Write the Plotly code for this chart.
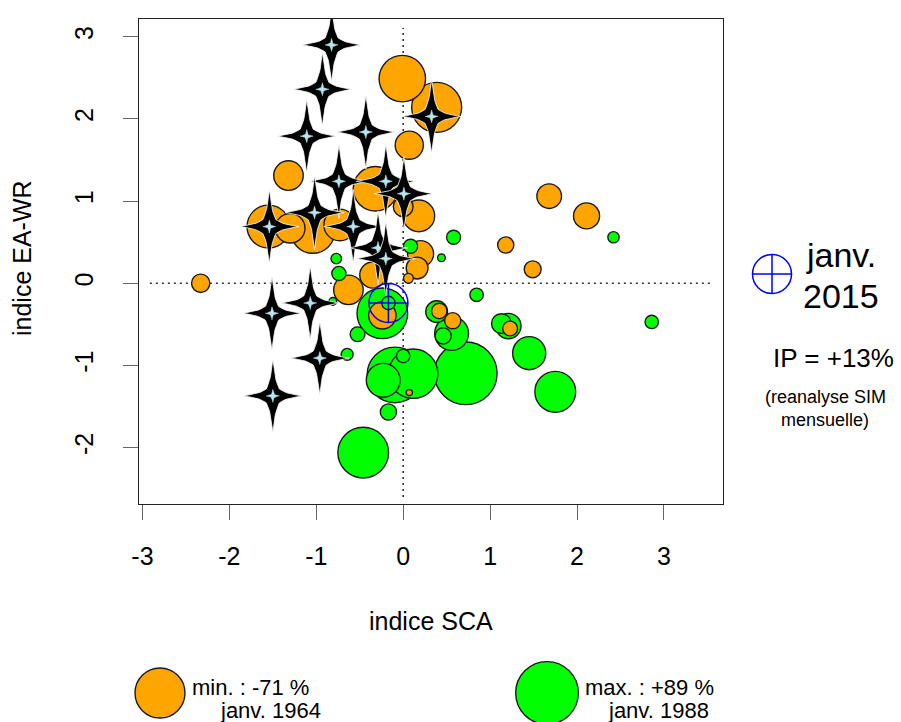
import numpy as np
import plotly.graph_objects as go

# ---- January values: SCA index, EA-WR index, precipitation anomaly IP (%) ----
sca = [-0.01, 0.385, 0.07, -1.32, -0.32, 0.00, 0.18, 1.68, 2.11, -1.55, -1.30, -1.04, -0.73,
       0.20, 0.16, 0.06, -0.35, 1.18, 1.49, -2.33, -0.63, -0.24, 0.415, 0.57, 1.23, 0.07,
       0.085, 0.44, 0.58, -0.77, -0.74, -0.81, -0.525, -0.645, -0.24, -0.17, -0.095, 0.115,
       -0.23, 0.00, -0.17, -0.46, 0.72, 0.845, 0.385, 0.557, 0.46, 1.13, 1.21, 1.45, 1.75,
       2.42, 2.86]
eawr = [2.49, 2.14, 1.68, 1.31, 1.15, 0.93, 0.82, 1.06, 0.82, 0.69, 0.67, 0.63, 0.71,
        0.36, 0.185, 0.06, 0.10, 0.466, 0.17, 0.00, -0.08, -0.39, -0.337, -0.455, -0.55, -1.33,
        0.45, 0.31, 0.56, 0.30, 0.12, -0.22, -0.62, -0.865, -0.365, -0.24, -1.115, -1.10,
        -1.18, -0.885, -1.565, -2.06, -1.095, -0.14, -0.345, -0.61, -0.64, -0.49, -0.52, -0.85,
        -1.32, 0.56, -0.47]
ip = [-66, -71, -40, -42, -63, -28, -45, -35, -37, -61, -42, -62, -45,
      -37, -31, -14, -37, -23, -24, -26, -42, -39, -22, -23, -21, -9,
      20, 11, 20, 15, 20, 11, 21, 17, 72, 19, 79, 70,
      48, 19, 23, 72, 89, 19, 31, 48, 23, 28, 36, 47,
      58, 16, 19]

# Months drawn as stars
star_sca = [-0.824, -0.93, -1.11, -0.43, -0.74, -0.20, 0.008, 0.327, -1.54, -1.02, -0.575,
            -0.29, -0.20, -1.51, -1.07, -0.96, -1.50]
star_eawr = [2.90, 2.36, 1.79, 1.84, 1.24, 1.24, 1.09, 2.03, 0.69, 0.86, 0.69,
             0.43, 0.30, -0.365, -0.24, -0.91, -1.37]

# Current month
cur_sca, cur_eawr = -0.17, -0.24
cur_month = ["janv.", "2015"]
cur_ip = 13

min_month = "janv. 1964"
max_month = "janv. 1988"

x_ticks = [-3, -2, -1, 0, 1, 2, 3]
y_ticks = [-2, -1, 0, 1, 2, 3]
x_range = [-3.04, 3.68]
y_range = [-2.685, 3.215]

# ---- layout geometry (pixels) ----
W, H = 901, 722
ML, MR, MT, MB = 139, 178, 19, 218
PW, PH = W - ML - MR, H - MT - MB
PX_X = PW / (x_range[1] - x_range[0])
PX_Y = PH / (y_range[1] - y_range[0])
K = 0.352  # circle radius in px per % of IP

ORANGE = "#FFA500"
GREEN = "#00FF00"
FONT = "Liberation Sans, Arial, Helvetica, sans-serif"


def paper_x(px):
    return (px - ML) / PW


def paper_y(py):
    return (MT + PH - py) / PH


def star_poly(cx, cy, hw, hh, inner_x, inner_y, bend=0.25, n=12):
    """Four-pointed star with slightly concave edges (sizes in px)."""
    tips = [(0, hh), (hw, 0), (0, -hh), (-hw, 0)]
    inners = [(inner_x, inner_y), (inner_x, -inner_y), (-inner_x, -inner_y), (-inner_x, inner_y)]
    pts = []
    for k in range(4):
        a, b, c = tips[k], inners[k], tips[(k + 1) % 4]
        for p0, p1 in [(a, b), (b, c)]:
            for t in np.linspace(0, 1, n, endpoint=False):
                x = p0[0] + (p1[0] - p0[0]) * t
                y = p0[1] + (p1[1] - p0[1]) * t
                # pull edge points towards the centre for a concave outline
                f = 1 - bend * 4 * t * (1 - t)
                pts.append((x * f, y * f))
    pts.append(pts[0])
    xs = [cx + p[0] / PX_X for p in pts]
    ys = [cy + p[1] / PX_Y for p in pts]
    return xs, ys


fig = go.Figure()

# reference lines through the origin
fig.add_trace(go.Scatter(x=[-2.915, 3.56], y=[0, 0], mode="lines",
                         line=dict(color="#333", width=1.6, dash="2px,4px"),
                         hoverinfo="skip", showlegend=False))
fig.add_trace(go.Scatter(x=[0, 0], y=[-2.60, 3.105], mode="lines",
                         line=dict(color="#333", width=1.6, dash="2px,4px"),
                         hoverinfo="skip", showlegend=False))

# circles, largest first so small ones stay visible
order = sorted(range(len(ip)), key=lambda i: -abs(ip[i]))
fig.add_trace(go.Scatter(
    x=[sca[i] for i in order], y=[eawr[i] for i in order], mode="markers",
    marker=dict(size=[2 * K * abs(ip[i]) for i in order],
                color=[ORANGE if ip[i] < 0 else GREEN for i in order],
                line=dict(color="#1a1a1a", width=1.4), opacity=1),
    text=[f"{ip[i]:+d} %" for i in order], hoverinfo="text", showlegend=False))

# stars
for sx, sy in zip(star_sca, star_eawr):
    xs, ys = star_poly(sx, sy, 29.5, 37, 6.5, 7.0, bend=0.18)
    fig.add_trace(go.Scatter(x=xs, y=ys, mode="lines", fill="toself", fillcolor="black",
                             line=dict(color="white", width=0.8), hoverinfo="skip",
                             showlegend=False))
    xs, ys = star_poly(sx, sy, 6.5, 6.5, 1.4, 1.4, bend=0.1)
    fig.add_trace(go.Scatter(x=xs, y=ys, mode="lines", fill="toself", fillcolor="#b8e6ee",
                             line=dict(color="#b8e6ee", width=0.5), hoverinfo="skip",
                             showlegend=False))

# current month target
fig.add_trace(go.Scatter(x=[cur_sca], y=[cur_eawr], mode="markers",
                         marker=dict(symbol="circle-cross-open", size=39,
                                     color="#0000FF", line=dict(color="#0000FF", width=1.5)),
                         hoverinfo="skip", showlegend=False))

shapes = []
# target glyph on the right
gx, gy, gr = paper_x(772), paper_y(274), 19.5
shapes.append(dict(type="circle", xref="paper", yref="paper", xsizemode="pixel",
                   ysizemode="pixel", xanchor=gx, yanchor=gy, x0=-gr, x1=gr, y0=-gr, y1=gr,
                   line=dict(color="#0000FF", width=1.5)))
shapes.append(dict(type="line", xref="paper", yref="paper", xsizemode="pixel",
                   ysizemode="pixel", xanchor=gx, yanchor=gy, x0=-gr, x1=gr, y0=0, y1=0,
                   line=dict(color="#0000FF", width=1.5)))
shapes.append(dict(type="line", xref="paper", yref="paper", xsizemode="pixel",
                   ysizemode="pixel", xanchor=gx, yanchor=gy, x0=0, x1=0, y0=-gr, y1=gr,
                   line=dict(color="#0000FF", width=1.5)))

# min / max legend circles
ip_min, ip_max = min(ip), max(ip)
for cx, cy, v, col in [(160, 693, ip_min, ORANGE), (547, 693, ip_max, GREEN)]:
    r = K * abs(v)
    shapes.append(dict(type="circle", xref="paper", yref="paper", xsizemode="pixel",
                       ysizemode="pixel", xanchor=paper_x(cx), yanchor=paper_y(cy),
                       x0=-r, x1=r, y0=-r, y1=r, fillcolor=col,
                       line=dict(color="#1a1a1a", width=1.4)))

annotations = []


def note(text, px, py, size, xanchor="center", angle=0):
    annotations.append(dict(text=text, x=paper_x(px), y=paper_y(py), xref="paper",
                            yref="paper", showarrow=False, xanchor=xanchor,
                            yanchor="middle", textangle=angle,
                            font=dict(family=FONT, size=size, color="black")))


note("indice SCA", 431, 621, 25)
note("indice EA-WR", 22, 258, 25, angle=-90)
note(cur_month[0], 841, 255, 34)
note(cur_month[1], 841, 296, 34)
note(f"IP = {cur_ip:+d}%", 833, 358, 26)
note("(reanalyse SIM", 825, 397, 18)
note("mensuelle)", 825, 420, 18)
note(f"min. : {ip_min} %", 190, 687, 22, xanchor="left")
note(min_month, 218, 710, 22, xanchor="left")
note(f"max. : +{ip_max} %", 583, 687, 22, xanchor="left")
note(max_month, 606, 710, 22, xanchor="left")

axis_common = dict(showgrid=False, zeroline=False, showline=True, mirror=True,
                   linecolor="#222", linewidth=1.4, ticks="outside", ticklen=15,
                   tickwidth=1.3, tickcolor="#666",
                   tickfont=dict(family=FONT, size=25, color="black"))

fig.update_layout(
    width=W, height=H, margin=dict(l=ML, r=MR, t=MT, b=MB),
    paper_bgcolor="white", plot_bgcolor="white",
    xaxis=dict(range=x_range, tickvals=x_ticks, ticktext=[str(v) for v in x_ticks],
               ticklabelstandoff=15, **axis_common),
    yaxis=dict(range=y_range, tickvals=y_ticks, ticktext=[str(v) for v in y_ticks],
               tickangle=-90, ticklabelstandoff=20, **axis_common),
    shapes=shapes, annotations=annotations, showlegend=False,
)

fig.write_html("out.html")
